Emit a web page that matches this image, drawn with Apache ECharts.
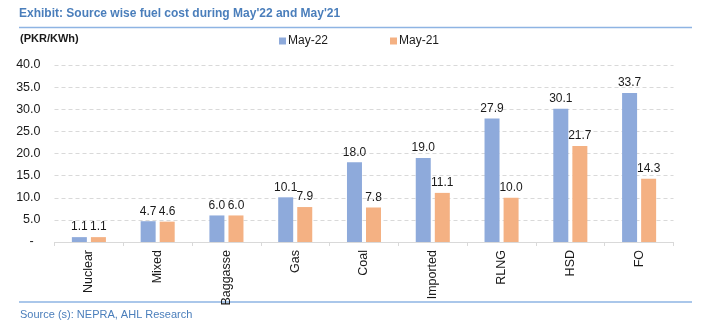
<!DOCTYPE html>
<html>
<head>
<meta charset="utf-8">
<style>
  html, body { margin: 0; padding: 0; background: #fff; }
  #chart { width: 702px; height: 326px; }
</style>
<script src="https://cdn.jsdelivr.net/npm/echarts@6/dist/echarts.min.js"></script>
</head>
<body>
<div id="chart"></div>
<script>
// Fuel cost per source (PKR/KWh)
const categories = ['Nuclear', 'Mixed', 'Baggasse', 'Gas', 'Coal', 'Imported', 'RLNG', 'HSD', 'FO'];
const may22 = [1.1, 4.7, 6.0, 10.1, 18.0, 19.0, 27.9, 30.1, 33.7];
const may21 = [1.1, 4.6, 6.0, 7.9, 7.8, 11.1, 10.0, 21.7, 14.3];
const yTicks = { min: 0, max: 40, interval: 5 };

const FONT = 'Liberation Sans, Arial, sans-serif';
const chart = echarts.init(document.getElementById('chart'));

const labelOpt = {
  show: true,
  position: 'top',
  distance: 4,
  color: '#1a1a1a',
  fontFamily: FONT,
  fontSize: 12,
  formatter: p => p.value.toFixed(1)
};

chart.setOption({
  animation: false,
  textStyle: { fontFamily: FONT },
  grid: { left: 54.5, right: 28.5, top: 65, bottom: 84 },
  legend: {
    top: 30,
    left: 274,
    itemGap: 62,
    itemWidth: 7,
    itemHeight: 7,
    icon: 'rect',
    textStyle: { fontFamily: FONT, fontSize: 12, color: '#1a1a1a', padding: [0, 0, 0, -3] },
    data: ['May-22', 'May-21']
  },
  graphic: [
    {
      type: 'text', left: 19, top: 8,
      style: { text: "Exhibit: Source wise fuel cost during May'22 and May'21", font: 'bold 12px ' + FONT, fill: '#4a7ebb' }
    },
    { type: 'line', shape: { x1: 19, y1: 27.5, x2: 692, y2: 27.5 }, style: { stroke: '#8eb4e3', lineWidth: 1.5 } },
    {
      type: 'text', left: 20, top: 33,
      style: { text: '(PKR/KWh)', font: 'bold 11px ' + FONT, fill: '#1a1a1a' }
    },
    { type: 'line', shape: { x1: 19, y1: 302, x2: 692, y2: 302 }, style: { stroke: '#8eb4e3', lineWidth: 1.5 } },
    {
      type: 'text', left: 20, top: 309,
      style: { text: 'Source (s): NEPRA, AHL Research', font: '11px ' + FONT, fill: '#4a7ebb' }
    }
  ],
  xAxis: {
    type: 'category',
    data: categories,
    axisLine: { lineStyle: { color: '#d9d9d9' } },
    axisTick: { show: true, lineStyle: { color: '#d9d9d9' }, length: 4 },
    axisLabel: { rotate: 90, color: '#1a1a1a', fontSize: 12.5, margin: 8, fontFamily: FONT }
  },
  yAxis: {
    type: 'value',
    min: yTicks.min, max: yTicks.max, interval: yTicks.interval,
    axisLine: { show: false },
    axisTick: { show: false },
    axisLabel: {
      color: '#1a1a1a', fontSize: 12.5, margin: 14, fontFamily: FONT,
      // zero is shown as an accounting-style dash, set in from the right edge
      formatter: v => v === 0 ? '-  ' : v.toFixed(1)
    },
    splitLine: { lineStyle: { color: '#d9d9d9', type: [4, 3] } }
  },
  series: [
    {
      name: 'May-22', type: 'bar', data: may22,
      barWidth: 15, barGap: '27%',
      itemStyle: { color: '#8eaadb' },
      label: labelOpt
    },
    {
      name: 'May-21', type: 'bar', data: may21,
      barWidth: 15,
      itemStyle: { color: '#f4b183' },
      label: labelOpt
    }
  ]
});
</script>
</body>
</html>
